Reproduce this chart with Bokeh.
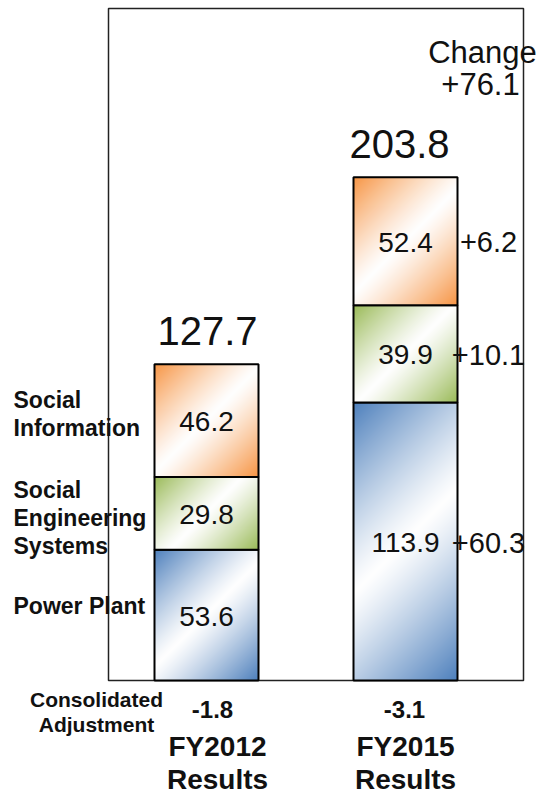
import numpy as np
from bokeh.plotting import figure
from bokeh.models import Range1d
from bokeh.embed import file_html
from bokeh.resources import INLINE
from bokeh.core.properties import value

# ---------------- data ----------------
periods = ["FY2012", "FY2015"]
period_sub = ["Results", "Results"]
segment_names = ["Power Plant", "Social Engineering Systems", "Social Information"]
power_plant = [53.6, 113.9]
social_eng = [29.8, 39.9]
social_info = [46.2, 52.4]
totals = [127.7, 203.8]
adjustments = [-1.8, -3.1]
segment_changes = [60.3, 10.1, 6.2]
total_change = 76.1

# ---------------- layout ----------------
W, H = 538, 794
PX = 2.44            # pixels per unit
BASE = 680           # y pixel of the zero line


def dy(ref_y):
    return (BASE - ref_y) / PX


FONT = value("Liberation Sans")
colors = ["#4F81BD", "#9BBB59", "#F79646"]
bar_x = [206, 405]
total_x = [207, 399]
bar_w = 104

p = figure(width=W, height=H, output_backend="svg", toolbar_location=None,
           x_range=Range1d(0, W), y_range=Range1d(dy(H), dy(0)),
           min_border=0, x_axis_location=None, y_axis_location=None,
           outline_line_color=None, background_fill_color="white",
           border_fill_color="white")
p.grid.visible = False

# frame
p.quad(left=[108], right=[523], bottom=[0], top=[dy(8)],
       fill_color=None, line_color="#222222", line_width=1.5)


def gradient(hexcol, w, h, power=1.0):
    r, g, b = (int(hexcol[i:i + 2], 16) for i in (1, 3, 5))
    jj, ii = np.meshgrid(np.arange(w), np.arange(h))
    t = (ii + jj) / float(w + h - 2)
    f = np.abs(2 * t - 1) ** power
    img = np.empty((h, w), dtype=np.uint32)
    v = img.view(dtype=np.uint8).reshape((h, w, 4))
    v[..., 0] = (255 * (1 - f) + r * f).astype(np.uint8)
    v[..., 1] = (255 * (1 - f) + g * f).astype(np.uint8)
    v[..., 2] = (255 * (1 - f) + b * f).astype(np.uint8)
    v[..., 3] = 255
    return img[::-1]


def label(xs, ys_ref, texts, size, bold=False, align="center"):
    p.text(x=xs, y=[dy(v) for v in ys_ref], text=texts, text_font=FONT,
           text_font_size=f"{size}px",
           text_font_style="bold" if bold else "normal",
           text_align=align, text_baseline="middle", text_color="#111111")


series = [power_plant, social_eng, social_info]
for bi in range(len(periods)):
    bottom = 0.0
    for si, s in enumerate(series):
        val = s[bi]
        h_px = int(round(val * PX))
        img = gradient(colors[si], bar_w, h_px, 1.2)
        p.image_rgba(image=[img], x=bar_x[bi] - bar_w / 2, y=bottom,
                     dw=bar_w, dh=val)
        p.quad(left=[bar_x[bi] - bar_w / 2], right=[bar_x[bi] + bar_w / 2],
               bottom=[bottom], top=[bottom + val], fill_color=None,
               line_color="black", line_width=2)
        p.text(x=[bar_x[bi]], y=[bottom + val / 2 - 1 / PX], text=[f"{val:.1f}"],
               text_font=FONT, text_font_size="28px", text_align="center",
               text_baseline="middle", text_color="#111111")
        if bi == 1:
            p.text(x=[488], y=[bottom + val / 2 - 1 / PX],
                   text=[f"+{segment_changes[si]:.1f}"],
                   text_font=FONT, text_font_size="29px", text_align="center",
                   text_baseline="middle", text_color="#111111")
        bottom += val
    # total above bar
    p.text(x=[total_x[bi]], y=[bottom + 33 / PX], text=[f"{totals[bi]:.1f}"],
           text_font=FONT, text_font_size="40px", text_align="center",
           text_baseline="middle", text_color="#111111")

# change label
label([482, 480], [52, 83], ["Change", f"+{total_change:.1f}"], 31)

# segment labels on the left
label_lines = [["Power Plant"], ["Social", "Engineering", "Systems"],
               ["Social", "Information"]]
label_mid = [[605], [489, 517, 545], [399, 427]]
for lines, mids in zip(label_lines, label_mid):
    label([13] * len(lines), mids, lines, 23, bold=True, align="left")

# consolidated adjustment
label([96, 96], [699, 724], ["Consolidated", "Adjustment"], 21, bold=True)
label([212, 404], [709, 709], [f"{a:.1f}" for a in adjustments], 24, bold=True)

# period labels
cat_x = [217, 405]
label(cat_x, [746, 746], periods, 28, bold=True)
label(cat_x, [779, 779], period_sub, 28, bold=True)

open("out.html", "w").write(file_html(p, INLINE))
